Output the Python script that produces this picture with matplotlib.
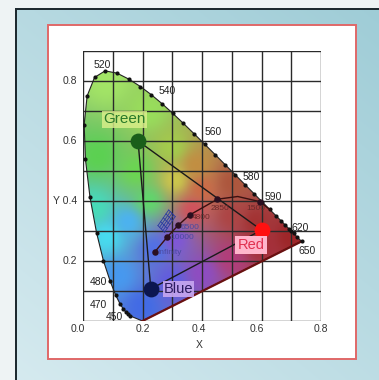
import numpy as np
import matplotlib.pyplot as plt
from matplotlib.patches import Rectangle, Polygon

plt.rcParams['font.family'] = ['Liberation Sans', 'DejaVu Sans']

# CIE 1931 spectral locus (wavelength nm, x, y)
wl = [450, 455, 460, 465, 470, 475, 480, 485, 490, 495, 500, 505, 510, 515,
      520, 525, 530, 535, 540, 545, 550, 555, 560, 565, 570, 575, 580, 585,
      590, 595, 600, 605, 610, 615, 620, 625, 630, 640, 650]
cie_x = [0.1566, 0.1510, 0.1440, 0.1355, 0.1241, 0.1096, 0.0913, 0.0687,
         0.0454, 0.0235, 0.0082, 0.0039, 0.0139, 0.0389, 0.0743, 0.1142,
         0.1547, 0.1929, 0.2296, 0.2658, 0.3016, 0.3373, 0.3731, 0.4087,
         0.4441, 0.4788, 0.5125, 0.5448, 0.5752, 0.6029, 0.6270, 0.6482,
         0.6658, 0.6801, 0.6915, 0.7006, 0.7079, 0.7190, 0.7347]
cie_y = [0.0177, 0.0223, 0.0297, 0.0399, 0.0578, 0.0868, 0.1327, 0.2007,
         0.2950, 0.4127, 0.5384, 0.6548, 0.7502, 0.8120, 0.8338, 0.8262,
         0.8059, 0.7816, 0.7543, 0.7243, 0.6923, 0.6589, 0.6245, 0.5896,
         0.5547, 0.5202, 0.4866, 0.4544, 0.4242, 0.3965, 0.3725, 0.3514,
         0.3340, 0.3197, 0.3083, 0.2993, 0.2920, 0.2809, 0.2653]
tip_x, tip_y = 0.20, 0.0

label_wl = ['520', '540', '560', '580', '590', '620', '650', '480', '470', '450']
label_x = [0.035, 0.255, 0.41, 0.535, 0.61, 0.70, 0.725, 0.082, 0.082, 0.077]
label_y = [0.855, 0.765, 0.63, 0.48, 0.415, 0.31, 0.235, 0.13, 0.053, 0.015]
label_ha = ['left'] * 7 + ['right', 'right', 'left']

# primaries
prim_names = ['Green', 'Red', 'Blue']
prim_x = [0.185, 0.60, 0.228]
prim_y = [0.600, 0.303, 0.107]

# blackbody curve
planck_x = [0.242, 0.284, 0.321, 0.358, 0.452, 0.52, 0.594, 0.63]
planck_y = [0.231, 0.281, 0.320, 0.353, 0.406, 0.415, 0.398, 0.37]
planck_lab = ['Infinity', '10000', '6500', '4800', '2850', '', '1500', '']
planck_dx = [0.008, 0.008, 0.008, 0.008, -0.022, 0, -0.045, 0]
planck_dy = [-0.004, -0.002, -0.008, -0.008, -0.03, 0, -0.022, 0]

fig = plt.figure(figsize=(3.79, 3.80), dpi=100)

# slide background
bg = fig.add_axes([0, 0, 1, 1], zorder=-5)
bg.set_axis_off()
gy, gx = np.mgrid[0:1:200j, 0:1:200j]
t = 0.55 * (1 - gy) + 0.45 * (1 - gx)
c1 = np.array([0.62, 0.80, 0.84])
c2 = np.array([0.84, 0.92, 0.94])
grad = c1 * (1 - t[..., None]) + c2 * t[..., None]
bg.imshow(grad, extent=[0, 1, 0, 1], origin='lower', aspect='auto')
bg.set_xlim(0, 1)
bg.set_ylim(0, 1)
bg.add_patch(Rectangle((0, 0), 15 / 379, 1, color='#eef3f4', lw=0))
bg.add_patch(Rectangle((0, 372 / 380), 1, 8 / 380, color='#eef3f4', lw=0))
bg.add_patch(Rectangle((15 / 379, 0), 2 / 379, 372 / 380, color='#1e2a30', lw=0))
bg.add_patch(Rectangle((15 / 379, 370 / 380), 1, 2.5 / 380, color='#1e2a30', lw=0))
bg.add_patch(Rectangle((48 / 379, 21 / 380), 308 / 379, 334 / 380,
                       facecolor='white', edgecolor='#e06868', lw=1.4))

ax = fig.add_axes([83 / 379, 59 / 380, 238 / 379, 270 / 380])
ax.set_xlim(0, 0.8)
ax.set_ylim(0, 0.9)
ax.set_axis_off()

# color field
anc = np.array([
    [0.08, 0.80, 0.64, 0.90, 0.40],
    [0.22, 0.70, 0.60, 0.87, 0.36],
    [0.05, 0.55, 0.36, 0.82, 0.32],
    [0.18, 0.50, 0.42, 0.84, 0.32],
    [0.22, 0.40, 0.38, 0.84, 0.42],
    [0.30, 0.58, 0.64, 0.80, 0.30],
    [0.31, 0.47, 0.80, 0.78, 0.30],
    [0.38, 0.52, 0.76, 0.56, 0.26],
    [0.40, 0.44, 0.80, 0.42, 0.28],
    [0.04, 0.38, 0.28, 0.86, 0.72],
    [0.08, 0.28, 0.28, 0.86, 0.94],
    [0.15, 0.33, 0.30, 0.70, 0.94],
    [0.12, 0.15, 0.28, 0.60, 0.94],
    [0.20, 0.05, 0.26, 0.42, 0.90],
    [0.24, 0.24, 0.32, 0.44, 0.90],
    [0.30, 0.13, 0.38, 0.36, 0.88],
    [0.31, 0.27, 0.50, 0.34, 0.84],
    [0.37, 0.37, 0.82, 0.32, 0.36],
    [0.40, 0.16, 0.56, 0.30, 0.76],
    [0.50, 0.21, 0.70, 0.24, 0.48],
    [0.50, 0.35, 0.68, 0.27, 0.27],
    [0.50, 0.46, 0.68, 0.34, 0.24],
    [0.58, 0.33, 0.64, 0.20, 0.20],
    [0.70, 0.28, 0.62, 0.15, 0.16],
    [0.60, 0.25, 0.65, 0.18, 0.22],
])
X, Y = np.meshgrid(np.linspace(0, 0.8, 320), np.linspace(0, 0.9, 360))
d2 = (X[..., None] - anc[:, 0]) ** 2 + (Y[..., None] - anc[:, 1]) ** 2 + 1e-4
w = 1 / d2 ** 1.3
w /= w.sum(axis=-1, keepdims=True)
img = w @ anc[:, 2:]
poly = Polygon(np.column_stack([cie_x + [tip_x], cie_y + [tip_y]]),
               closed=True, transform=ax.transData)
im = ax.imshow(np.clip(img, 0, 1), extent=[0, 0.8, 0, 0.9], origin='lower',
               aspect='auto', zorder=1)
im.set_clip_path(poly)

# grid
for gxv in np.arange(0, 0.81, 0.1):
    ax.plot([gxv, gxv], [0, 0.9], color='#2a2a2a', lw=1.0, zorder=3)
for gyv in np.arange(0, 0.91, 0.1):
    ax.plot([0, 0.8], [gyv, gyv], color='#2a2a2a', lw=1.0, zorder=3)

# locus outline and dots
ax.plot(cie_x + [tip_x, cie_x[0]], cie_y + [tip_y, cie_y[0]],
        color='#222222', lw=0.8, zorder=4)
ax.plot([tip_x, cie_x[-1]], [tip_y, cie_y[-1]], color='#6a1010', lw=1.6, zorder=4)
ax.scatter(cie_x, cie_y, s=9, color='#111111', zorder=5, lw=0)

for s, lx, ly, ha in zip(label_wl, label_x, label_y, label_ha):
    ax.text(lx, ly, s, fontsize=7.5, color='#222222', ha=ha, va='center',
            zorder=6, clip_on=False)

# triangle
tri_x = prim_x + [prim_x[0]]
tri_y = prim_y + [prim_y[0]]
ax.plot(tri_x, tri_y, color='#1a1a1a', lw=1.0, zorder=5)

# isotemperature mesh near 6500
A = np.array([0.252, 0.318])
B = np.array([0.288, 0.370])
C = np.array([0.274, 0.296])
for f in np.linspace(0, 1, 5):
    p0 = A + f * (C - A)
    ax.plot([p0[0], p0[0] + (B - A)[0]], [p0[1], p0[1] + (B - A)[1]],
            color='#2a3aa0', lw=0.6, zorder=5)
for f in np.linspace(0, 1, 5):
    p0 = A + f * (B - A)
    ax.plot([p0[0], p0[0] + (C - A)[0]], [p0[1], p0[1] + (C - A)[1]],
            color='#2a3aa0', lw=0.6, zorder=5)

# blackbody curve
ax.plot(planck_x, planck_y, color='#3a1010', lw=1.0, zorder=5)
for px_, py_, lab, dx, dy in zip(planck_x, planck_y, planck_lab, planck_dx, planck_dy):
    if not lab:
        continue
    ax.scatter([px_], [py_], s=22, color='#2a0f20', zorder=6, lw=0)
    warm = lab in ('4800', '2850', '1500')
    ax.text(px_ + dx, py_ + dy, lab, fontsize=6,
            color='#6a2a2a' if warm else '#4a4aa0', ha='left', va='center', zorder=6)

# primaries
ax.scatter([prim_x[0]], [prim_y[0]], s=130, color='#1a5e1a', zorder=7, lw=0)
ax.scatter([prim_x[1]], [prim_y[1]], s=130, color='#ff1010', zorder=7, lw=0)
ax.scatter([prim_x[2]], [prim_y[2]], s=130, color='#0c1650', zorder=7, lw=0)
ax.text(0.14, 0.672, prim_names[0], fontsize=11, color='#2a7a2a', ha='center',
        va='center', zorder=7,
        bbox=dict(boxstyle='square,pad=0.08', fc='#dcf08c', ec='none', alpha=0.8))
ax.text(0.565, 0.253, prim_names[1], fontsize=10.5, color='#e03050', ha='center',
        va='center', zorder=7,
        bbox=dict(boxstyle='square,pad=0.15', fc='#ffb6cc', ec='none'))
ax.text(0.322, 0.107, prim_names[2], fontsize=10.5, color='#2a1a60', ha='center',
        va='center', zorder=7,
        bbox=dict(boxstyle='square,pad=0.06', fc='#c8a8f0', ec='none', alpha=0.9))

# axis labels
for v, s in zip([0.8, 0.6, 0.4, 0.2], ['0.8', '0.6', 'Y 0.4', '0.2']):
    ax.text(-0.02, v, s, fontsize=7.5, color='#333333', ha='right', va='center',
            clip_on=False)
ax.text(-0.018, -0.028, '0.0', fontsize=7.5, color='#333333', ha='center',
        va='center', clip_on=False)
for v, s in zip([0.2, 0.39, 0.585, 0.8], ['0.2', '0.4', '0.6', '0.8']):
    ax.text(v, -0.028, s, fontsize=7.5, color='#333333', ha='center',
            va='center', clip_on=False)
ax.text(0.39, -0.08, 'X', fontsize=7.5, color='#333333', ha='center',
        va='center', clip_on=False)

fig.savefig('out.png', dpi=100)
